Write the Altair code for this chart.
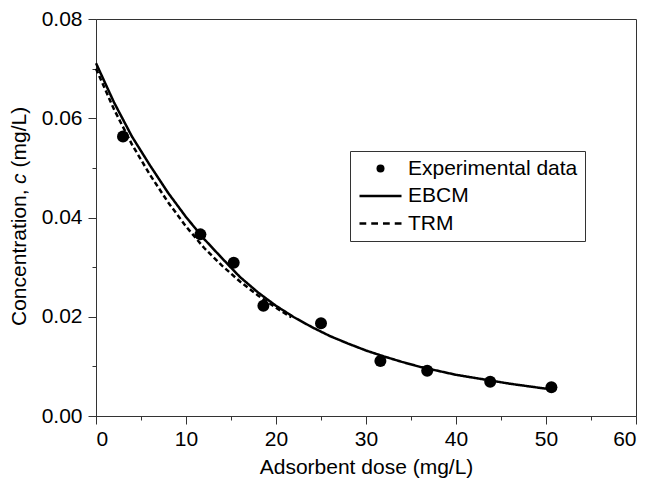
import altair as alt
import pandas as pd

series_names = ["Experimental data", "EBCM", "TRM"]

# Experimental points
exp_dose = [3.0, 11.6, 15.3, 18.6, 25.0, 31.6, 36.8, 43.8, 50.6]
exp_conc = [0.0563, 0.0366, 0.0309, 0.0222, 0.0187, 0.0111, 0.0091, 0.0069, 0.0058]

# EBCM model curve (solid)
ebcm_dose = [0, 2, 4, 6, 8, 10, 12, 14, 16, 18, 20, 22, 24, 26, 28, 30, 32, 34, 36, 38, 40, 42, 44, 46, 48, 50]
ebcm_conc = [0.0711, 0.0632, 0.0563, 0.0505, 0.0450, 0.0401, 0.0357, 0.0318, 0.0280, 0.0249,
             0.0222, 0.0199, 0.0179, 0.0161, 0.0146, 0.0132, 0.0120, 0.0109, 0.0099, 0.0091,
             0.0083, 0.0077, 0.0071, 0.0065, 0.0060, 0.0055]

# TRM model curve (dashed)
trm_dose = [0, 2, 4, 6, 8, 10, 12, 14, 16, 18, 20, 21.7]
trm_conc = [0.0700, 0.0618, 0.0547, 0.0486, 0.0431, 0.0382, 0.0339, 0.0303, 0.0271, 0.0243, 0.0218, 0.0199]

x_ticks = [0, 5, 10, 15, 20, 25, 30, 35, 40, 45, 50, 55, 60]
y_ticks = [0.0, 0.01, 0.02, 0.03, 0.04, 0.05, 0.06, 0.07, 0.08]

exp_df = pd.DataFrame({"dose": exp_dose, "conc": exp_conc, "series": series_names[0]})
lines_df = pd.concat([
    pd.DataFrame({"dose": ebcm_dose, "conc": ebcm_conc, "series": series_names[1]}),
    pd.DataFrame({"dose": trm_dose, "conc": trm_conc, "series": series_names[2]}),
], ignore_index=True)

FONT = "Liberation Sans"

# legend glyphs: filled paths (unit box -1..1 scaled by sqrt(size)/2)
solid_glyph = "M-5.25,-0.3L5.25,-0.3L5.25,0.3L-5.25,0.3Z"
dashed_glyph = ("M-5.25,-0.3L-3.56,-0.3L-3.56,0.3L-5.25,0.3Z"
                "M-2.31,-0.3L-0.62,-0.3L-0.62,0.3L-2.31,0.3Z"
                "M0.62,-0.3L2.31,-0.3L2.31,0.3L0.62,0.3Z"
                "M3.56,-0.3L5.25,-0.3L5.25,0.3L3.56,0.3Z")

x_enc = alt.X(
    "dose:Q",
    scale=alt.Scale(domain=[0, 60], nice=False),
    axis=alt.Axis(
        title="Adsorbent dose (mg/L)",
        values=x_ticks,
        labelExpr="datum.value % 10 === 0 ? datum.label : ''",
        tickSize={"condition": {"test": "datum.value % 10 === 0", "value": 8}, "value": 4},
        labelPadding=4,
        titlePadding=7,
    ),
)
y_enc = alt.Y(
    "conc:Q",
    scale=alt.Scale(domain=[0, 0.08], nice=False),
    axis=alt.Axis(
        title=None,
        values=y_ticks,
        format=".2f",
        labelExpr="round(datum.value * 100) % 2 === 0 ? datum.label : ''",
        tickSize={"condition": {"test": "round(datum.value * 100) % 2 === 0", "value": 8}, "value": 4},
        labelPadding=6,
    ),
)

legend_common = dict(
    title=None,
    orient="none",
    legendX=254,
    legendY=132,
    padding=7,
    strokeColor="#333",
    fillColor="white",
    symbolSize=64,
    symbolFillColor="black",
    symbolStrokeColor="black",
    symbolStrokeWidth=0.5,
    symbolOffset=13,
    labelFont=FONT,
    labelFontSize=21,
    labelColor="black",
    labelOffset=17,
    labelLimit=300,
    rowPadding=5.5,
)

points = alt.Chart(exp_df).mark_point(filled=True, size=144, color="black", opacity=1).encode(
    x=x_enc,
    y=y_enc,
    shape=alt.Shape(
        "series:N",
        scale=alt.Scale(domain=series_names, range=["circle", solid_glyph, dashed_glyph]),
        legend=alt.Legend(**legend_common),
    ),
)

lines = alt.Chart(lines_df).mark_line(color="black", strokeWidth=2.5).encode(
    x=x_enc,
    y=y_enc,
    strokeDash=alt.StrokeDash(
        "series:N",
        scale=alt.Scale(domain=series_names, range=[[1, 0], [1, 0], [5, 3]]),
        legend=alt.Legend(**legend_common),
    ),
)

dummy = pd.DataFrame({"a": [0]})
title_style = dict(angle=270, align="left", baseline="alphabetic", fontSize=21, font=FONT, color="black")
t1 = alt.Chart(dummy).mark_text(text="Concentration,", **title_style).encode(
    x=alt.value(-70), y=alt.value(307))
t2 = alt.Chart(dummy).mark_text(text="c", fontStyle="italic", **title_style).encode(
    x=alt.value(-70), y=alt.value(165))
t3 = alt.Chart(dummy).mark_text(text="(mg/L)", **title_style).encode(
    x=alt.value(-70), y=alt.value(148.5))

chart = alt.layer(lines, points, t1, t2, t3).properties(
    width=540,
    height=397,
    autosize=alt.AutoSizeParams(type="none"),
    padding={"left": 88, "top": 11, "right": 4, "bottom": 62},
).configure_view(
    stroke="#333", strokeWidth=1
).configure_axis(
    grid=False,
    domainColor="#333",
    tickColor="#333",
    labelFont=FONT,
    labelFontSize=21,
    labelColor="black",
    titleFont=FONT,
    titleFontSize=21,
    titleFontWeight="normal",
    titleColor="black",
    labelOverlap=False,
)

chart.save("out.html", embed_options={"renderer": "svg", "actions": False})
